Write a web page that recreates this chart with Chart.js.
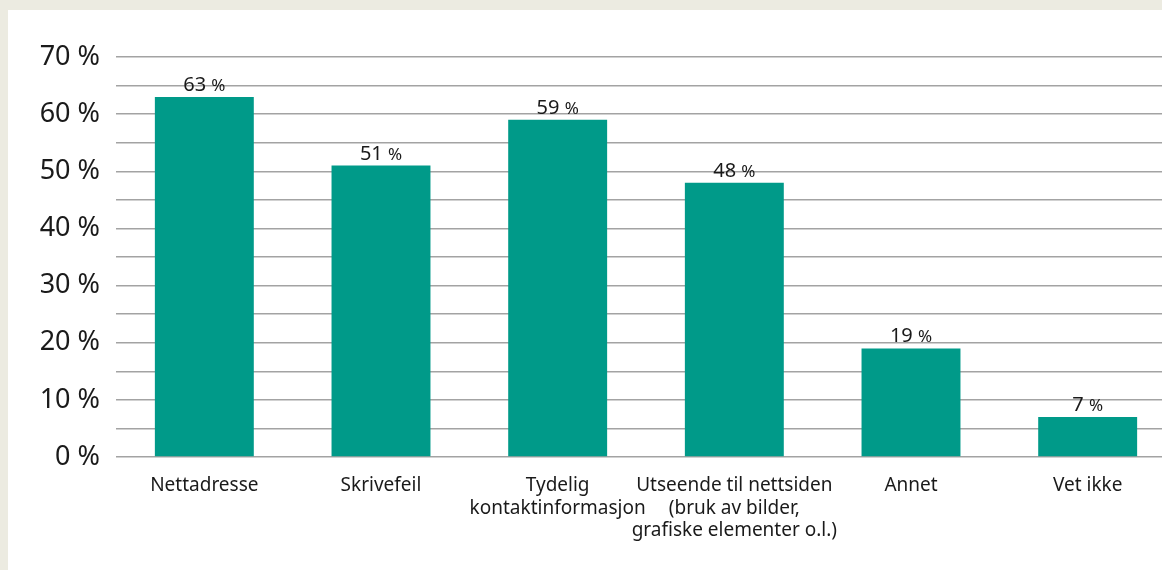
<!DOCTYPE html>
<html lang="no">
<head>
    <meta charset="UTF-8">
    <title>Andel</title>
    <script src="https://cdn.jsdelivr.net/npm/chart.js"></script>
    <style>
        html, body {
            margin: 0;
            padding: 0;
            background-color: #ecebe1;
            overflow: hidden;
        }
        .panel {
            position: absolute;
            left: 8px;
            top: 10px;
            width: 1154px;
            height: 560px;
            background: #ffffff;
            overflow: hidden;
        }
    </style>
</head>
<body>
    <div class="panel">
        <canvas id="chart" width="1168" height="560"></canvas>
    </div>

    <script>
        // Data lest av figuren
        const categories = [
            'Nettadresse',
            'Skrivefeil',
            ['Tydelig', 'kontaktinformasjon'],
            ['Utseende til nettsiden', '(bruk av bilder,', 'grafiske elementer o.l.)'],
            'Annet',
            'Vet ikke'
        ];
        const values = [63, 51, 59, 48, 19, 7];
        const yMax = 70;
        const yStep = 5;
        const labelStep = 10;

        const textColor = '#1a1a1a';
        const fontName = "'Noto Sans', sans-serif";

        // Tegner verdien over hver søyle, med litt mindre prosenttegn
        const valueLabels = {
            id: 'valueLabels',
            afterDatasetsDraw(chart) {
                const ctx = chart.ctx;
                const meta = chart.getDatasetMeta(0);
                ctx.save();
                ctx.fillStyle = textColor;
                ctx.textBaseline = 'alphabetic';
                meta.data.forEach((bar, i) => {
                    const num = String(values[i]) + ' ';
                    ctx.font = '20px ' + fontName;
                    const w1 = ctx.measureText(num).width;
                    ctx.font = '17px ' + fontName;
                    const w2 = ctx.measureText('%').width;
                    const x0 = bar.x - (w1 + w2) / 2;
                    const y = bar.y - 6;
                    ctx.textAlign = 'left';
                    ctx.font = '20px ' + fontName;
                    ctx.fillText(num, x0, y);
                    ctx.font = '17px ' + fontName;
                    ctx.fillText('%', x0 + w1, y);
                });
                ctx.restore();
            }
        };

        new Chart(document.getElementById('chart'), {
            type: 'bar',
            data: {
                labels: categories,
                datasets: [{
                    data: values,
                    backgroundColor: '#009a89',
                    categoryPercentage: 1,
                    barPercentage: 0.56
                }]
            },
            options: {
                responsive: false,
                animation: false,
                layout: { padding: { top: 47, right: 0, left: 0, bottom: 0 } },
                plugins: {
                    legend: { display: false },
                    tooltip: { enabled: false }
                },
                scales: {
                    x: {
                        grid: { display: false, drawTicks: false },
                        border: { display: false },
                        ticks: {
                            color: textColor,
                            font: { family: fontName, size: 19, lineHeight: 1.2 },
                            padding: 17,
                            maxRotation: 0,
                            autoSkip: false
                        },
                        afterFit(scale) { scale.height = 113; }
                    },
                    y: {
                        min: 0,
                        max: yMax,
                        grid: { color: '#a3a3a3', lineWidth: 1.5, drawTicks: false },
                        border: { display: false },
                        ticks: {
                            stepSize: yStep,
                            autoSkip: false,
                            color: textColor,
                            font: { family: fontName, size: 27 },
                            padding: 16,
                            callback: v => (v % labelStep === 0 ? v + ' %' : '')
                        },
                        afterFit(scale) { scale.width = 108; }
                    }
                }
            },
            plugins: [valueLabels]
        });
    </script>
</body>
</html>
